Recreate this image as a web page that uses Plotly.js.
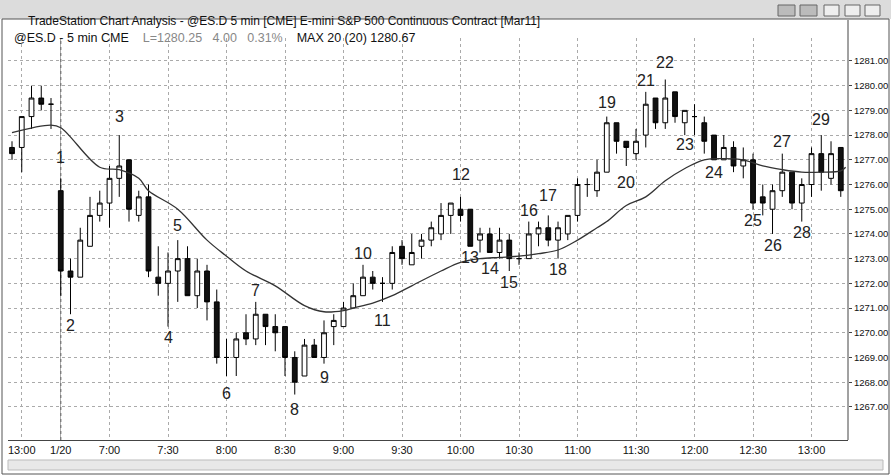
<!DOCTYPE html>
<html><head><meta charset="utf-8">
<script src="https://cdn.plot.ly/plotly-3.0.1.min.js"></script>
<style>body{margin:0;background:#fff}#c{width:891px;height:476px}</style>
</head><body><div id="c"></div>
<script>
// OHLC per 5-min bar (index 0..85)
const opens  = [1277.5,1277.5,1278.75,1279.5,1279.25,1275.75,1272.5,1272.25,1273.5,1274.75,1275.25,1276.25,1277,1274.75,1275.5,1272.25,1272,1272.5,1273,1271.5,1272.5,1271.25,1269,1269,1270,1269.75,1270.75,1270.25,1270.25,1269,1268.25,1269.5,1269,1270.25,1270.25,1271,1271.5,1272.25,1272,1272,1273.5,1272.75,1273.5,1273.75,1274,1274.75,1275,1275,1273.75,1274,1273.25,1273.75,1273,1273,1274,1274.25,1273.75,1274,1274.75,1276,1275.75,1276.5,1278.5,1277.75,1277.25,1278,1279.5,1278.5,1279.75,1278.5,1278.75,1278.5,1278,1277,1277.5,1276.75,1277,1275.5,1275,1275.75,1276.5,1275.25,1276,1277.25,1276.25,1277.5];
const highs  = [1277.75,1278.75,1280,1280,1279.5,1276.25,1273,1274.25,1275.5,1275.75,1276.75,1278,1277,1275.75,1276,1273.5,1273.25,1273.75,1273.5,1273,1272.75,1271.75,1269.75,1270,1270.75,1271.25,1270.75,1270.75,1270.25,1269.25,1269.75,1269.75,1270.5,1270.75,1271.25,1272,1272.75,1272.5,1272.25,1273.5,1273.75,1274,1274,1274.5,1275.25,1275.25,1275.5,1275,1274.25,1274.25,1274.25,1274,1273.25,1274.5,1274.5,1274.75,1274.5,1274.75,1276.25,1276.25,1277,1278.75,1278.5,1277.75,1278.25,1279.75,1279.5,1280.25,1279.75,1279,1279.25,1278.75,1278,1278,1277.75,1277.5,1277.25,1276,1276,1277.25,1276.5,1276.25,1277.5,1278,1277.75,1277.5];
const lows   = [1277,1276.5,1278.25,1279,1278.25,1271.5,1270.75,1272.25,1273.5,1274.5,1274.25,1275.5,1274.5,1274.5,1272.25,1271.5,1270.25,1271.25,1271.5,1271,1270.5,1268.75,1268.25,1268.25,1269.5,1269.5,1269.5,1269.25,1268.25,1267.5,1268.25,1269,1268.75,1269.5,1270.25,1271,1271.5,1271.75,1271.25,1271.75,1272.75,1272.75,1273,1273.5,1273.75,1274,1274.5,1273.5,1273.25,1273.25,1273,1272.5,1272.75,1273,1273.5,1273.5,1273,1273.75,1274.5,1275.5,1275.5,1276.5,1277.25,1276.75,1277,1277.5,1278.25,1278.25,1278.5,1278,1278,1277.25,1277,1277,1276.5,1276.25,1275,1274.75,1274,1275.5,1275,1274.5,1275.5,1275.75,1276,1275.5];
const closes = [1277.25,1278.75,1279.5,1279.25,1279.25,1272.5,1272.25,1273.75,1274.75,1275.25,1276.25,1276.75,1275,1275.5,1272.5,1272,1272.5,1273,1271.5,1272.5,1271.25,1269,1269,1269.75,1269.75,1270.75,1270.25,1270,1269,1268,1269.5,1269,1270,1270.5,1271,1271.5,1272.25,1272,1272,1273.25,1273,1273.25,1273.75,1274.25,1274.75,1275.25,1274.75,1273.5,1274,1273.25,1273.75,1273,1273,1274,1274.25,1273.75,1274.25,1274.75,1276,1276,1276.5,1278.5,1277.75,1277.5,1277.75,1279.25,1278.5,1279.5,1278.75,1279,1278.75,1277.75,1277,1277.5,1276.75,1277,1275.25,1275.25,1275.75,1276.5,1275.25,1276,1277.25,1276.5,1277.25,1275.75];
// moving average line
const maX = [0,4,5,9,11,13,14,17,20,22,24,27,30,32,34,35,37,39,41,44,46,48,50,52,54,56,58,60,61,63,65,67,69,71,73,75,77,79,81,83,85,85.5];
const maY = [1278.1,1278.4,1278.3,1276.7,1276.6,1276.25,1275.75,1275,1273.75,1273.1,1272.5,1271.9,1271.1,1270.85,1270.9,1271.0,1271.2,1271.5,1271.9,1272.5,1272.85,1273,1273.05,1273.1,1273.2,1273.35,1273.75,1274.25,1274.5,1275.15,1275.5,1276.15,1276.65,1277,1277.05,1277,1276.75,1276.6,1276.5,1276.5,1276.55,1276.7];
const tickIdx = [1,5,10,16,22,28,34,40,46,52,58,64,70,76,82];
const tickTxt = ["13:00","1/20","7:00","7:30","8:00","8:30","9:00","9:30","10:00","10:30","11:00","11:30","12:00","12:30","13:00"];
const yTicks = [1267,1268,1269,1270,1271,1272,1273,1274,1275,1276,1277,1278,1279,1280,1281];
const lblTxt = ["1","2","3","4","5","6","7","8","9","10","11","12","13","14","15","16","17","18","19","20","21","22","23","24","25","26","27","28","29"];
const lblX = [5,6,11,16,17,22,25,29,32,36,38,46,47,49,51,53,55,56,61,63,65,67,69,72,76,78,79,81,83];
const lblY = [1277.1,1270.3,1278.75,1269.8,1274.35,1267.55,1271.7,1266.9,1268.2,1273.2,1270.5,1276.4,1273.05,1272.6,1272.05,1274.95,1275.55,1272.55,1279.3,1276.1,1280.2,1280.95,1277.6,1276.5,1274.55,1273.55,1277.75,1274.05,1278.65];

const idx = opens.map((_,i)=>i);
const W=891,H=476,L=8,R=43,T=38,B=36;
const px=x=>(x-L)/(W-L-R), py=y=>1-(y-T)/(H-T-B);
const font="Liberation Sans, Arial, sans-serif";

const traces=[
 {type:'candlestick',x:idx,open:opens,high:highs,low:lows,close:closes,
  increasing:{line:{color:'#000',width:1},fillcolor:'#fff'},
  decreasing:{line:{color:'#000',width:1},fillcolor:'#111'},
  whiskerwidth:0,hoverinfo:'none',showlegend:false},
 {type:'scatter',mode:'lines',x:maX,y:maY,line:{color:'#333',width:1.3,shape:'spline'},hoverinfo:'none',showlegend:false}
];
const ann=lblTxt.map((t,i)=>({x:lblX[i],y:lblY[i],text:t,showarrow:false,font:{family:font,size:16,color:'#222'}}));
ann.push({x:px(26),y:py(12),xref:'paper',yref:'paper',xanchor:'left',text:'TradeStation Chart Analysis - @ES.D 5 min [CME] E-mini S&P 500 Continuous Contract [Mar11]',showarrow:false,font:{family:font,size:12,color:'#111'}});
ann.push({x:px(12),y:py(29),xref:'paper',yref:'paper',xanchor:'left',text:'@ES.D - 5 min CME    <span style="color:#888">L=1280.25   4.00   0.31%</span>    MAX 20 (20) 1280.67',showarrow:false,font:{family:font,size:12.5,color:'#111'}});
const shapes=[
 {type:'rect',xref:'paper',yref:'paper',x0:px(0),x1:px(891),y0:py(0),y1:py(19),fillcolor:'#dcdcdc',line:{width:0},layer:'below'},
 {type:'rect',xref:'paper',yref:'paper',x0:px(2),x1:px(889),y0:py(19),y1:py(474),fillcolor:'rgba(0,0,0,0)',line:{color:'#555',width:1}},
 {type:'rect',xref:'paper',yref:'paper',x0:px(8),x1:px(883),y0:py(460),y1:py(470),fillcolor:'#e8e8e8',line:{color:'#bbb',width:1}},
 {type:'rect',xref:'paper',yref:'paper',x0:px(778),x1:px(795),y0:py(5),y1:py(16),fillcolor:'#bbb',line:{color:'#666',width:1}},
 {type:'rect',xref:'paper',yref:'paper',x0:px(800),x1:px(817),y0:py(5),y1:py(16),fillcolor:'#bbb',line:{color:'#666',width:1}},
 {type:'rect',xref:'paper',yref:'paper',x0:px(824),x1:px(839),y0:py(5),y1:py(16),fillcolor:'#eee',line:{color:'#666',width:1}},
 {type:'rect',xref:'paper',yref:'paper',x0:px(845),x1:px(860),y0:py(5),y1:py(16),fillcolor:'#eee',line:{color:'#666',width:1}},
 {type:'rect',xref:'paper',yref:'paper',x0:px(865),x1:px(880),y0:py(5),y1:py(16),fillcolor:'#eee',line:{color:'#666',width:1}},
 {type:'line',x0:5,x1:5,yref:'paper',y0:0,y1:1,layer:'below',line:{color:'#666',width:1.2,dash:'dot'}},
 {type:'line',xref:'paper',yref:'paper',x0:1,x1:1,y0:0,y1:py(20),line:{color:'#444',width:1}}
];
const layout={width:W,height:H,margin:{l:L,r:R,t:T,b:B},paper_bgcolor:'#fff',plot_bgcolor:'#fff',
 xaxis:{range:[-0.41,85.74],tickvals:tickIdx,ticktext:tickTxt,showgrid:true,gridcolor:'#aaa',griddash:'dot',gridwidth:1,
  rangeslider:{visible:false},showline:true,linecolor:'#444',ticks:'',tickfont:{family:font,size:11,color:'#111'},zeroline:false,fixedrange:true},
 yaxis:{range:[1265.66,1281.93],side:'right',tickvals:yTicks,ticktext:yTicks.map(v=>v.toFixed(2)),showgrid:true,gridcolor:'#aaa',griddash:'dot',
  ticks:'outside',ticklen:3,tickcolor:'#444',tickfont:{family:font,size:9.5,color:'#111'},zeroline:false,showline:false},
 annotations:ann,shapes:shapes,showlegend:false,hovermode:false};
Plotly.newPlot('c',traces,layout,{displayModeBar:false,staticPlot:true});
</script></body></html>
